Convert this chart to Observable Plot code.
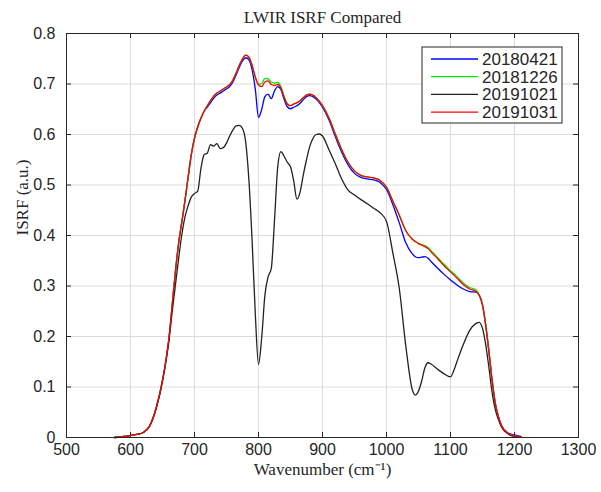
<!DOCTYPE html>
<html>
<head>
<meta charset="utf-8">
<script src="https://cdn.jsdelivr.net/npm/d3@7"></script>
<script src="https://cdn.jsdelivr.net/npm/@observablehq/plot@0.6"></script>
<style>
  html, body { margin: 0; padding: 0; background: #fff; }
</style>
</head>
<body>
<div id="chart"></div>
<script>
// Spectral sample grid (cm^-1)
const wavenumber = [
  575, 590, 600, 610, 620, 630, 640, 650,
  655, 660, 665, 670, 675, 680, 685, 690, 695, 700,
  705, 710, 715, 720, 725, 730, 735, 740, 745, 750, 755, 760, 765, 770, 775, 780,
  785, 790, 795, 800, 805, 810, 815, 820, 825, 830, 835, 840, 845, 850, 855, 860,
  865, 870, 875, 880, 885, 890, 895, 900,
  910, 920, 930, 940, 950, 960, 970, 980, 990, 1000, 1010, 1020, 1030, 1040,
  1045, 1050, 1055, 1060, 1065, 1070, 1080, 1090, 1100, 1105, 1110, 1120, 1130, 1140,
  1145, 1150, 1155, 1160, 1165, 1170, 1175, 1180, 1190, 1200, 1210
];

const isrf20180421 = [
  0, 0.002, 0.004, 0.006, 0.010, 0.023, 0.058, 0.113,
  0.150, 0.196, 0.260, 0.326, 0.383, 0.425, 0.468, 0.515, 0.560, 0.593,
  0.615, 0.632, 0.646, 0.654, 0.663, 0.672, 0.678, 0.682, 0.686, 0.690, 0.695, 0.704, 0.718, 0.733, 0.746, 0.752,
  0.748, 0.728, 0.690, 0.634, 0.650, 0.675, 0.680, 0.671, 0.686, 0.695, 0.689, 0.670, 0.655, 0.651, 0.654, 0.657,
  0.662, 0.669, 0.675, 0.677, 0.675, 0.670, 0.663, 0.654,
  0.629, 0.596, 0.565, 0.540, 0.523, 0.515, 0.512, 0.510, 0.505, 0.491, 0.461, 0.425, 0.386, 0.364,
  0.358, 0.356, 0.357, 0.358, 0.355, 0.348, 0.335, 0.323, 0.312, 0.307, 0.302, 0.294, 0.289, 0.288,
  0.282, 0.263, 0.223, 0.171, 0.114, 0.068, 0.041, 0.023, 0.009, 0.005, 0.002
];

const isrf20181226 = [
  0, 0.002, 0.004, 0.006, 0.010, 0.023, 0.058, 0.113,
  0.150, 0.196, 0.260, 0.326, 0.383, 0.425, 0.468, 0.515, 0.560, 0.593,
  0.615, 0.632, 0.646, 0.657, 0.667, 0.676, 0.682, 0.686, 0.690, 0.694, 0.699, 0.708, 0.722, 0.737, 0.750, 0.757,
  0.753, 0.737, 0.714, 0.700, 0.701, 0.711, 0.710, 0.704, 0.702, 0.703, 0.695, 0.676, 0.662, 0.657, 0.660, 0.663,
  0.667, 0.673, 0.678, 0.680, 0.678, 0.673, 0.666, 0.657,
  0.633, 0.601, 0.570, 0.545, 0.528, 0.519, 0.516, 0.514, 0.509, 0.496, 0.468, 0.440, 0.410, 0.393,
  0.388, 0.384, 0.382, 0.380, 0.376, 0.370, 0.356, 0.343, 0.330, 0.325, 0.319, 0.306, 0.297, 0.292,
  0.282, 0.262, 0.222, 0.170, 0.113, 0.067, 0.040, 0.022, 0.008, 0.003, 0.001
];

const isrf20191021 = [
  0, 0.002, 0.004, 0.006, 0.010, 0.023, 0.057, 0.111,
  0.147, 0.191, 0.247, 0.300, 0.352, 0.400, 0.436, 0.459, 0.476, 0.483,
  0.488, 0.532, 0.560, 0.563, 0.580, 0.577, 0.582, 0.572, 0.574, 0.583, 0.597, 0.609, 0.617, 0.618, 0.612, 0.585,
  0.510, 0.390, 0.245, 0.145, 0.198, 0.282, 0.318, 0.335, 0.430, 0.535, 0.566, 0.557, 0.545, 0.536, 0.508, 0.472,
  0.486, 0.520, 0.550, 0.576, 0.592, 0.600, 0.601, 0.597,
  0.570, 0.542, 0.512, 0.490, 0.480, 0.471, 0.463, 0.454, 0.445, 0.428, 0.365, 0.295, 0.183, 0.096,
  0.084, 0.092, 0.112, 0.138, 0.148, 0.145, 0.135, 0.126, 0.120, 0.132, 0.150, 0.184, 0.212, 0.226,
  0.228, 0.216, 0.184, 0.139, 0.089, 0.055, 0.035, 0.020, 0.007, 0.002, 0.001
];

const isrf20191031 = [
  0, 0.002, 0.004, 0.006, 0.010, 0.023, 0.058, 0.113,
  0.150, 0.196, 0.260, 0.326, 0.383, 0.425, 0.468, 0.515, 0.560, 0.593,
  0.615, 0.632, 0.646, 0.657, 0.667, 0.676, 0.682, 0.686, 0.690, 0.694, 0.699, 0.708, 0.722, 0.737, 0.750, 0.757,
  0.753, 0.737, 0.714, 0.698, 0.695, 0.704, 0.706, 0.699, 0.697, 0.699, 0.692, 0.674, 0.660, 0.657, 0.660, 0.663,
  0.667, 0.673, 0.678, 0.680, 0.678, 0.673, 0.666, 0.657,
  0.633, 0.601, 0.570, 0.545, 0.528, 0.519, 0.516, 0.514, 0.509, 0.496, 0.468, 0.440, 0.410, 0.393,
  0.388, 0.384, 0.381, 0.378, 0.374, 0.367, 0.354, 0.340, 0.328, 0.322, 0.316, 0.303, 0.294, 0.289,
  0.281, 0.262, 0.222, 0.170, 0.113, 0.067, 0.040, 0.022, 0.008, 0.003, 0.001
];

const seriesNames = ["20180421", "20181226", "20191021", "20191031"];
const seriesValues = [isrf20180421, isrf20181226, isrf20191021, isrf20191031];
const seriesColors = ["#0000ff", "#00ee00", "#222222", "#ff0000"];

const xTicks = [500, 600, 700, 800, 900, 1000, 1100, 1200, 1300];
const yTicks = [0, 0.1, 0.2, 0.3, 0.4, 0.5, 0.6, 0.7, 0.8];

const rows = seriesNames.flatMap((name, i) =>
  wavenumber.map((w, j) => ({wavenumber: w, isrf: seriesValues[i][j], series: name}))
);

const W = 601, H = 492;
const mL = 66, mR = 23, mT = 33, mB = 55;
const innerW = W - mL - mR, innerH = H - mT - mB;
const tickLen = 5;
const sans = "'Liberation Sans', Arial, Helvetica, sans-serif";
const serif = "'Liberation Serif', 'Times New Roman', Times, serif";
const ink = "#262626";

const svg = Plot.plot({
  width: W,
  height: H,
  marginLeft: mL,
  marginRight: mR,
  marginTop: mT,
  marginBottom: mB,
  style: {fontFamily: sans, fontSize: "16px", color: ink, background: "#fff"},
  x: {domain: [500, 1300], ticks: xTicks, label: null},
  y: {domain: [0, 0.8], ticks: yTicks, label: null},
  color: {domain: seriesNames, range: seriesColors},
  marks: [
    Plot.gridX(xTicks, {stroke: "#dcdcdc", strokeOpacity: 1}),
    Plot.gridY(yTicks, {stroke: "#dcdcdc", strokeOpacity: 1}),
    // inward ticks on all four sides
    Plot.tickX(xTicks, {x: d => d, insetTop: innerH - tickLen, stroke: ink}),
    Plot.tickX(xTicks, {x: d => d, insetBottom: innerH - tickLen, stroke: ink}),
    Plot.tickY(yTicks, {y: d => d, insetRight: innerW - tickLen, stroke: ink}),
    Plot.tickY(yTicks, {y: d => d, insetLeft: innerW - tickLen, stroke: ink}),
    Plot.axisX(xTicks, {tickSize: 0, tickPadding: 6, label: null, tickFormat: d => String(d), fill: ink}),
    Plot.axisY(yTicks, {tickSize: 0, tickPadding: 11, label: null, tickFormat: d => d === 0 ? "0" : d3.format(".1f")(d), fill: ink}),
    Plot.line(rows, {
      x: "wavenumber", y: "isrf", z: "series", stroke: "series",
      strokeWidth: 1.3, curve: "monotone-x"
    }),
    Plot.frame({stroke: ink, strokeWidth: 1}),
    Plot.text(["LWIR ISRF Compared"], {
      frameAnchor: "top", lineAnchor: "middle", dy: -16, fontFamily: serif, fontSize: 17, fill: ink
    }),
    Plot.text(["Wavenumber (cm\u207B\u00B9)"], {
      frameAnchor: "bottom", lineAnchor: "middle", dy: 32, fontFamily: serif, fontSize: 17, fill: ink
    }),
    Plot.text(["ISRF (a.u.)"], {
      frameAnchor: "left", lineAnchor: "middle", dx: -44, rotate: -90, fontFamily: serif, fontSize: 17, fill: ink
    })
  ]
});

// Legend box in the upper-right corner of the axes
const legW = 140, legH = 76, rowH = 17.7;
const legX = W - mR - 16 - legW, legY = mT + 14;
const leg = d3.select(svg).append("g").attr("transform", `translate(${legX},${legY})`);
leg.append("rect")
  .attr("width", legW).attr("height", legH)
  .attr("fill", "#fff").attr("stroke", ink).attr("stroke-width", 1);
seriesNames.forEach((name, i) => {
  const cy = 12 + i * rowH;
  leg.append("line")
    .attr("x1", 9).attr("x2", 56).attr("y1", cy).attr("y2", cy)
    .attr("stroke", seriesColors[i]).attr("stroke-width", 1.3);
  leg.append("text")
    .attr("x", 60).attr("y", cy).attr("dy", "0.35em")
    .attr("text-anchor", "start")
    .attr("font-family", sans).attr("font-size", 17).attr("fill", ink)
    .text(name);
});

document.getElementById("chart").appendChild(svg);
</script>
</body>
</html>
